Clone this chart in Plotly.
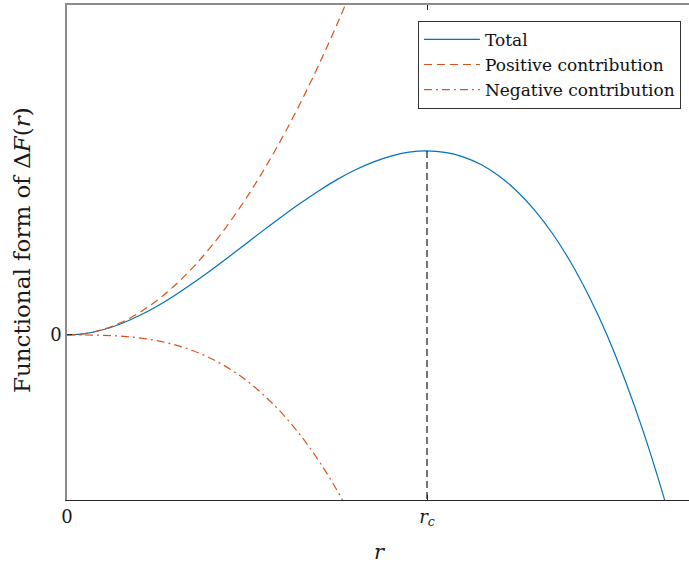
import plotly.graph_objects as go

# radius (in units of r_c)
r_total = [0, 0.05, 0.1, 0.15, 0.2, 0.25, 0.3, 0.35, 0.4, 0.45, 0.5, 0.55, 0.6, 0.65,
           0.7, 0.75, 0.8, 0.85, 0.9, 0.95, 1.0, 1.05, 1.1, 1.15, 1.2, 1.25, 1.3, 1.35,
           1.4, 1.45, 1.5, 1.55, 1.6, 1.65, 1.7]
total = [0, 0.007, 0.028, 0.061, 0.104, 0.156, 0.216, 0.282, 0.352, 0.425, 0.5, 0.575,
         0.648, 0.718, 0.784, 0.844, 0.896, 0.939, 0.972, 0.993, 1.0, 0.992, 0.968, 0.926,
         0.864, 0.781, 0.676, 0.547, 0.392, 0.21, 0.0, -0.245, -0.52, -0.83, -1.17]

r_contrib = [0, 0.05, 0.1, 0.15, 0.2, 0.25, 0.3, 0.35, 0.4, 0.45, 0.5, 0.55, 0.6, 0.65,
             0.7, 0.75, 0.8]
positive = [0, 0.0075, 0.03, 0.0675, 0.12, 0.1875, 0.27, 0.3675, 0.48, 0.6075, 0.75,
            0.9075, 1.08, 1.2675, 1.47, 1.6875, 1.92]
negative = [0, -0.0003, -0.002, -0.0068, -0.016, -0.031, -0.054, -0.086, -0.128, -0.182,
            -0.25, -0.333, -0.432, -0.549, -0.686, -0.844, -1.024]

r_c = 1.0
x_tickvals = [0, r_c]
x_ticktext = ["0", "<i>r</i><sub><i>c</i></sub>"]
y_tickvals = [0]
y_ticktext = ["0"]

x_range = [0, 1.7278]
y_range = [-0.897, 1.793]

BLUE = "#0072BD"
ORANGE = "#D95319"
FONT = "DejaVu Serif"

fig = go.Figure()
fig.add_trace(go.Scatter(x=r_total, y=total, mode="lines", name="Total",
                         line=dict(color=BLUE, width=1.2, shape="spline")))
fig.add_trace(go.Scatter(x=r_contrib, y=positive, mode="lines", name="Positive contribution",
                         line=dict(color=ORANGE, width=1.2, dash="8px,5px", shape="spline")))
fig.add_trace(go.Scatter(x=r_contrib, y=negative, mode="lines", name="Negative contribution",
                         line=dict(color=ORANGE, width=1.2, dash="8px,4px,2px,4px", shape="spline")))
# vertical marker at r_c (top x axis trace so the top axis is drawn)
fig.add_trace(go.Scatter(x=[r_c, r_c], y=[max(total), y_range[0]], mode="lines",
                         xaxis="x2", showlegend=False, hoverinfo="skip",
                         line=dict(color="black", width=1.1, dash="7px,4px")))

fig.update_layout(
    width=689, height=565,
    margin=dict(l=67, r=0, t=5, b=65),
    paper_bgcolor="white", plot_bgcolor="white",
    font=dict(family=FONT, size=18, color="#1a1a1a"),
    showlegend=True,
    legend=dict(x=0.987, y=0.968, xanchor="right", yanchor="top",
                bordercolor="#333333", borderwidth=1, bgcolor="white",
                font=dict(family=FONT, size=17, color="#111111"),
                tracegroupgap=0, itemwidth=56),
    xaxis=dict(range=x_range, tickvals=x_tickvals, ticktext=x_ticktext,
               showgrid=False, zeroline=False, showline=True, linecolor="#262626",
               linewidth=1.2, ticks="inside", ticklen=5, tickcolor="#262626",
               tickfont=dict(family=FONT, size=18, color="#1a1a1a")),
    xaxis2=dict(range=x_range, matches="x", overlaying="x", side="top",
                tickvals=x_tickvals, showticklabels=False, showgrid=False, zeroline=False,
                showline=True, linecolor="#8c8c8c", linewidth=1.5, ticks="inside",
                ticklen=5, tickcolor="#262626"),
    yaxis=dict(range=y_range, tickvals=y_tickvals, ticktext=y_ticktext,
               showgrid=False, zeroline=False, showline=True, linecolor="#8c8c8c",
               linewidth=1.5, ticks="inside", ticklen=5, tickcolor="#262626",
               tickfont=dict(family=FONT, size=18, color="#1a1a1a")),
    annotations=[
        dict(text="<i>r</i>", xref="paper", yref="paper", x=0.503, y=-0.105,
             xanchor="center", yanchor="middle", showarrow=False,
             font=dict(family=FONT, size=21, color="#1a1a1a")),
        dict(text="Functional form of Δ<i>F</i>(<i>r</i>)", xref="paper", yref="paper",
             x=-0.0723, y=0.505, xanchor="center", yanchor="middle", textangle=-90,
             showarrow=False, font=dict(family=FONT, size=23, color="#1a1a1a")),
    ],
)

fig.write_html("out.html")
